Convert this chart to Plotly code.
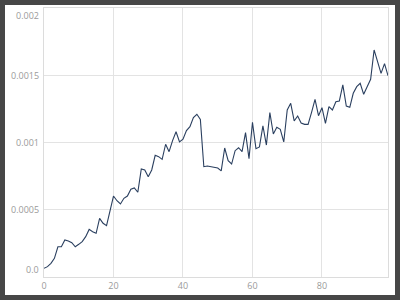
import plotly.graph_objects as go

x_values = list(range(100))
y_values = [
    0.000065, 0.000077, 0.000102, 0.000139, 0.000225, 0.000225, 0.000275, 0.000268, 0.000255, 0.000225,
    0.000243, 0.000263, 0.000300, 0.000354, 0.000337, 0.000325, 0.000436, 0.000399, 0.000382, 0.000486,
    0.000602, 0.000567, 0.000543, 0.000585, 0.000602, 0.000652, 0.000662, 0.000630, 0.000803, 0.000796,
    0.000746, 0.000796, 0.000905, 0.000895, 0.000875, 0.000987, 0.000932, 0.001014, 0.001080, 0.001004,
    0.001024, 0.001088, 0.001118, 0.001185, 0.001210, 0.001172, 0.000820, 0.000825, 0.000820, 0.000813,
    0.000810, 0.000789, 0.000959, 0.000865, 0.000840, 0.000939, 0.000961, 0.000932, 0.001073, 0.000880,
    0.001150, 0.000954, 0.000967, 0.001123, 0.000981, 0.001222, 0.001063, 0.001113, 0.001098, 0.001004,
    0.001242, 0.001291, 0.001160, 0.001197, 0.001145, 0.001135, 0.001135, 0.001224, 0.001321, 0.001199,
    0.001259, 0.001143, 0.001266, 0.001242, 0.001303, 0.001309, 0.001428, 0.001271, 0.001262, 0.001366,
    0.001415, 0.001440, 0.001358, 0.001415, 0.001470, 0.001688, 0.001606, 0.001514, 0.001586, 0.001497,
]

x_tick_vals = [0, 20, 40, 60, 80]
x_tick_text = ["0", "20", "40", "60", "80"]
y_tick_vals = [0, 0.0005, 0.001, 0.0015, 0.002]
y_tick_text = ["0.0", "0.0005", "0.001", "0.0015", "0.002"]
y_label_shift = [8, 0, 0, 0, -7.5]

W, H = 400, 300
ML, MR, MT, MB = 44, 12, 8, 23
pw, ph = W - ML - MR, H - MT - MB

fig = go.Figure()
fig.add_trace(go.Scatter(
    x=x_values, y=y_values, mode="lines",
    line=dict(color="#2a3f5f", width=1.1),
    showlegend=False,
))

# white card on dark page
fig.add_shape(
    type="rect", xref="paper", yref="paper", layer="below",
    x0=(5 - ML) / pw, x1=(395 - ML) / pw,
    y0=(H - MB - 295) / ph, y1=(H - MB - 5) / ph,
    fillcolor="white", line=dict(width=0),
)

for v, t, s in zip(y_tick_vals, y_tick_text, y_label_shift):
    fig.add_annotation(
        x=0, xref="paper", y=v, yref="y", text=t, showarrow=False,
        xanchor="right", yanchor="middle", xshift=-3, yshift=s,
        font=dict(family="Open Sans", size=9, color="#9a9a9a"),
    )

fig.update_layout(
    width=W, height=H,
    margin=dict(l=ML, r=MR, t=MT, b=MB),
    paper_bgcolor="#474747",
    plot_bgcolor="white",
    font=dict(family="Open Sans", size=9, color="#9a9a9a"),
)
fig.update_xaxes(
    range=[0, 99], tickvals=x_tick_vals, ticktext=x_tick_text,
    showgrid=True, gridcolor="#e3e3e3", gridwidth=1,
    showline=True, linecolor="#dcdcdc", linewidth=1, mirror=True,
    zeroline=False, ticks="", tickfont=dict(size=9, color="#9a9a9a"),
)
fig.update_yaxes(
    range=[0, 0.002], tickvals=y_tick_vals, showticklabels=False,
    showgrid=True, gridcolor="#e3e3e3", gridwidth=1,
    showline=True, linecolor="#dcdcdc", linewidth=1, mirror=True,
    zeroline=False, ticks="",
)

fig.write_html("out.html")
